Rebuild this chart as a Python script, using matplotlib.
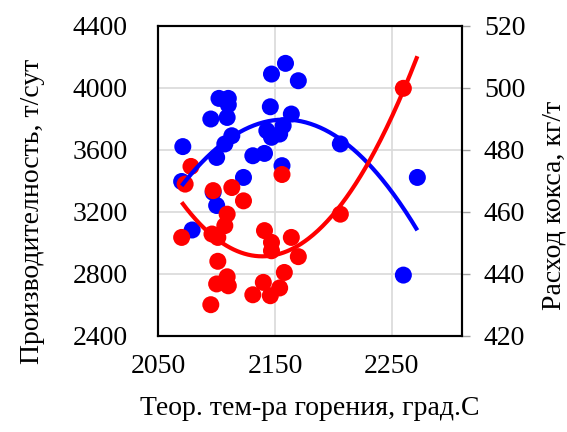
import numpy as np
import matplotlib
matplotlib.use("Agg")
import matplotlib.pyplot as plt

# Data
temp_prod = [2071, 2070, 2079, 2097, 2100, 2100, 2095, 2102, 2110, 2110, 2109, 2107,
             2113, 2123, 2131, 2141, 2143, 2146, 2147, 2147, 2154, 2157, 2159, 2164,
             2170, 2156, 2206, 2260, 2272]
productivity = [3620, 3395, 3082, 3325, 3240, 3550, 3798, 3931, 3931, 3890, 3808, 3637,
                3690, 3421, 3561, 3576, 3723, 3877, 4088, 3680, 3701, 3755, 4157, 3830,
                4045, 3497, 3637, 2791, 3421]

temp_coke = [2078, 2073, 2097, 2113, 2123, 2156, 2109, 2107, 2096, 2101, 2070, 2141,
             2147, 2147, 2164, 2170, 2206, 2101, 2109, 2100, 2110, 2095, 2131, 2140,
             2146, 2154, 2158, 2260]
coke_rate = [474.6, 468.9, 466.8, 467.8, 463.5, 472.0, 459.2, 455.5, 452.8, 451.7, 451.7,
             453.9, 450.1, 447.4, 451.7, 445.5, 459.2, 444.0, 439.0, 436.7, 436.1, 430.0,
             433.2, 437.2, 432.9, 435.4, 440.4, 499.8]

x_ticks = [2050, 2150, 2250]
left_ticks = [2400, 2800, 3200, 3600, 4000, 4400]
right_ticks = [420, 440, 460, 480, 500, 520]

plt.rcParams['font.family'] = ['Liberation Serif', 'DejaVu Serif']
FS = 20

fig = plt.figure(figsize=(5.67, 4.32), dpi=100)
ax = fig.add_axes([158.3/567, 1-335.7/432, (461.7-158.3)/567, (335.7-25.7)/432])
ax2 = ax.twinx()
ax3 = ax.twinx()
ax4 = ax.twinx()

xlim = (2050, 2310)
for a in (ax, ax2, ax3, ax4):
    a.set_xlim(*xlim)
ax.set_ylim(2400, 4400)
ax3.set_ylim(2400, 4400)
ax2.set_ylim(420, 520)
ax4.set_ylim(420, 520)

blue = '#0000FF'
red = '#FF0000'

ax.scatter(temp_prod, productivity, s=150, color=blue, edgecolors='none', zorder=3)
ax2.scatter(temp_coke, coke_rate, s=150, color=red, edgecolors='none', zorder=3)

xs = np.linspace(min(temp_prod), max(temp_prod), 200)
pb = np.polyfit(temp_prod, productivity, 2)
pr = np.polyfit(temp_coke, coke_rate, 2)
ax3.plot(xs, np.polyval(pb, xs), color=blue, lw=3, solid_capstyle='butt')
ax4.plot(xs, np.polyval(pr, xs), color=red, lw=3, solid_capstyle='butt')

for a in (ax3, ax4):
    a.axis('off')

ax.set_xticks(x_ticks)
ax.set_yticks(left_ticks)
ax2.set_yticks(right_ticks)
ax.grid(True, color='#d9d9d9', lw=1.2, zorder=0)
ax.set_axisbelow(True)

ax.tick_params(axis='x', length=0, labelsize=FS, pad=13)
ax.tick_params(axis='y', length=0, labelsize=FS, pad=22)
ax2.tick_params(axis='y', length=6, width=1, color='#a0a0a0', labelsize=FS, pad=10)

for a in (ax, ax2):
    for s in a.spines.values():
        s.set_linewidth(1.5)
        s.set_color('black')

ax.set_xlabel('Теор. тем-ра горения, град.С', fontsize=FS)
ax.set_ylabel('Производителность, т/сут', fontsize=FS)
ax2.set_ylabel('Расход кокса, кг/т', fontsize=FS)
ax.xaxis.set_label_coords(0.5, -0.193)
ax.yaxis.set_label_coords(-0.375, 0.40)
ax2.yaxis.set_label_coords(1.262, 0.42)

fig.savefig('out.png', dpi=100)
